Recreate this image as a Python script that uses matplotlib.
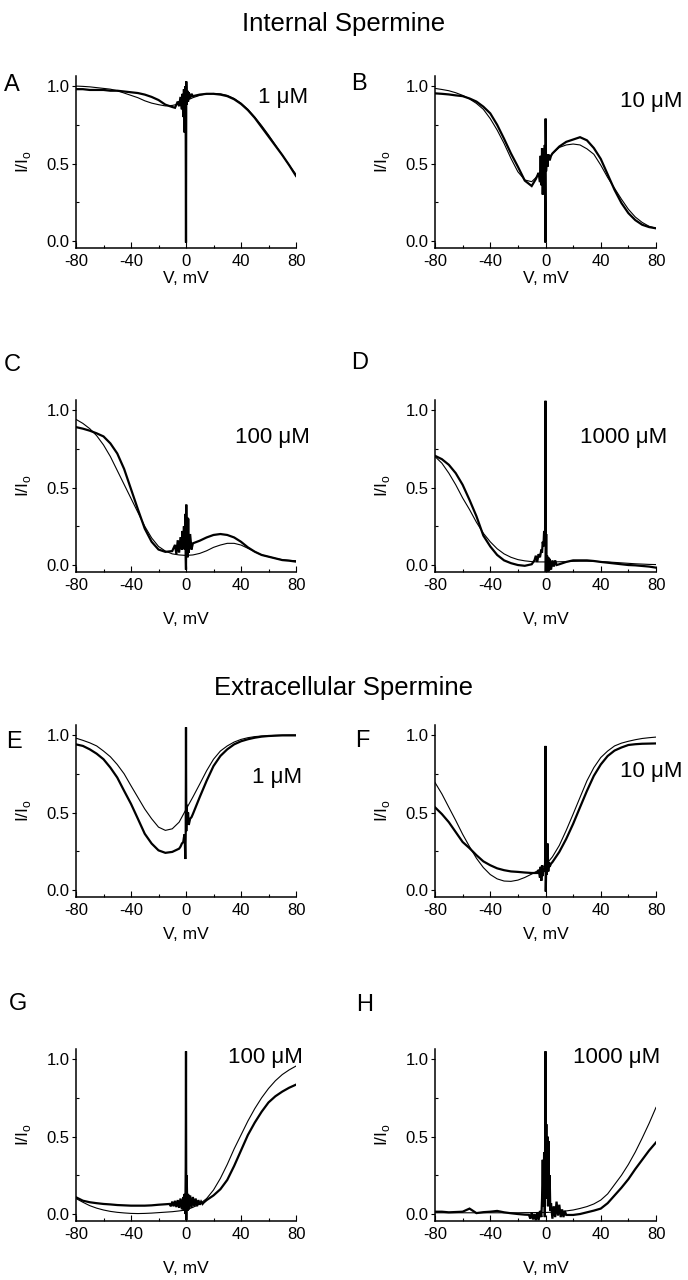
import matplotlib
matplotlib.use("Agg")
import matplotlib.pyplot as plt

plt.rcParams["font.family"] = ["Liberation Sans", "DejaVu Sans"]
plt.rcParams["mathtext.fontset"] = "custom"
plt.rcParams["mathtext.rm"] = "Liberation Sans"
plt.rcParams["axes.unicode_minus"] = False

# membrane voltage grid (mV)
volts = [-80, -75, -70, -65, -60, -55, -50, -45, -40, -35, -30, -25, -20, -15, -10, -5,
         0, 5, 10, 15, 20, 25, 30, 35, 40, 45, 50, 55, 60, 65, 70, 75, 80]

# A - internal 1 uM
a_trace = [0.98, 0.98, 0.975, 0.975, 0.975, 0.97, 0.97, 0.965, 0.96, 0.955, 0.945, 0.93, 0.91, 0.88, 0.865, 0.88,
           0.90, 0.935, 0.945, 0.95, 0.95, 0.945, 0.935, 0.915, 0.885, 0.845, 0.795, 0.735, 0.675, 0.615, 0.555, 0.49, 0.42]
a_fit = [1.0, 0.998, 0.995, 0.99, 0.985, 0.98, 0.97, 0.955, 0.94, 0.925, 0.905, 0.89, 0.88, 0.872, 0.875, 0.885,
         0.905, 0.925, 0.94, 0.95, 0.952, 0.95, 0.94, 0.92, 0.89, 0.85, 0.80, 0.745, 0.685, 0.62, 0.555, 0.49, 0.43]
a_burst_v = [-8, -6, -5, -4, -3, -2.5, -2, -1.5, -1, -0.5, -0.2, 0, 0.2, 0.5, 1, 1.5, 2, 3, 4]
a_burst = [0.86, 0.90, 0.87, 0.93, 0.85, 0.95, 0.80, 0.98, 0.70, 1.00, 0.67, -0.01, 1.03, 0.88, 0.97, 0.90, 0.96, 0.92, 0.95]

# B - internal 10 uM
b_trace = [0.953, 0.95, 0.946, 0.94, 0.935, 0.92, 0.90, 0.867, 0.824, 0.75, 0.66, 0.565, 0.48, 0.39, 0.355, 0.42,
           0.5, 0.565, 0.61, 0.64, 0.655, 0.67, 0.65, 0.60, 0.53, 0.43, 0.33, 0.245, 0.18, 0.135, 0.105, 0.09, 0.082]
b_fit = [0.985, 0.978, 0.97, 0.957, 0.94, 0.917, 0.888, 0.85, 0.79, 0.716, 0.63, 0.533, 0.447, 0.394, 0.383, 0.426,
         0.50, 0.565, 0.604, 0.62, 0.626, 0.62, 0.595, 0.56, 0.49, 0.41, 0.34, 0.27, 0.205, 0.155, 0.12, 0.095, 0.082]
b_burst_v = [-7, -6, -5, -4, -3.5, -3, -2.5, -2, -1.5, -1, -0.5, -0.2, 0, 0.1, 0.4, 1, 1.5, 2, 3, 4]
b_burst = [0.40, 0.42, 0.44, 0.38, 0.55, 0.36, 0.60, 0.30, 0.50, 0.40, 0.62, 0.25, -0.01, 0.79, 0.45, 0.55, 0.48, 0.56, 0.52, 0.55]

# C - internal 100 uM
c_trace = [0.89, 0.88, 0.867, 0.85, 0.83, 0.785, 0.72, 0.62, 0.49, 0.36, 0.235, 0.15, 0.10, 0.085, 0.09, 0.118,
           0.1, 0.118, 0.157, 0.178, 0.194, 0.2, 0.194, 0.178, 0.15, 0.114, 0.086, 0.065, 0.054, 0.043, 0.032, 0.028, 0.022]
c_fit = [0.94, 0.914, 0.88, 0.835, 0.775, 0.70, 0.61, 0.52, 0.43, 0.34, 0.25, 0.175, 0.12, 0.09, 0.072, 0.065,
         0.062, 0.065, 0.075, 0.092, 0.114, 0.129, 0.14, 0.14, 0.129, 0.108, 0.086, 0.065, 0.054, 0.043, 0.034, 0.03, 0.028]
c_burst_v = [-10, -8, -7, -6, -5, -4, -3, -2.5, -2, -1.5, -1, -0.5, -0.2, 0, 0.2, 0.5, 0.8, 1.2, 1.6, 2, 3, 4, 5]
c_burst = [0.09, 0.13, 0.07, 0.16, 0.08, 0.18, 0.10, 0.22, 0.12, 0.25, 0.10, 0.33, 0.05, -0.03, 0.39, 0.08,
           0.31, 0.05, 0.30, 0.08, 0.20, 0.10, 0.14]

# D - internal 1000 uM
d_trace = [0.705, 0.683, 0.647, 0.593, 0.518, 0.42, 0.315, 0.19, 0.12, 0.065, 0.03, 0.012, 0.0, -0.005, 0.005, 0.02,
           0.0, 0.0, 0.005, 0.02, 0.03, 0.03, 0.03, 0.026, 0.02, 0.015, 0.01, 0.005, 0.0, -0.002, -0.006, -0.01, -0.017]
d_fit = [0.70, 0.657, 0.593, 0.518, 0.433, 0.358, 0.276, 0.205, 0.15, 0.105, 0.072, 0.05, 0.035, 0.027, 0.022, 0.02,
         0.02, 0.02, 0.021, 0.022, 0.024, 0.025, 0.025, 0.024, 0.022, 0.02, 0.017, 0.014, 0.011, 0.008, 0.006, 0.004, 0.003]
d_burst_v = [-8, -7, -6, -5, -4, -3, -2.5, -2, -1.5, -1, -0.6, -0.3, 0, 0.2, 0.5, 0.8, 1.2, 1.6, 2, 2.5, 3, 4, 5, 6, 7, 8]
d_burst = [0.03, 0.06, 0.02, 0.07, 0.05, 0.10, 0.08, 0.15, 0.12, 0.22, 0.14, 0.21, 1.06, -0.05, 0.20, -0.04,
           0.06, -0.05, 0.05, -0.04, 0.04, -0.03, 0.03, -0.01, 0.03, 0.0]

# E - extracellular 1 uM
e_trace = [0.94, 0.93, 0.908, 0.88, 0.844, 0.79, 0.726, 0.64, 0.556, 0.46, 0.363, 0.30, 0.256, 0.24, 0.246, 0.267,
           0.3, 0.49, 0.60, 0.705, 0.80, 0.865, 0.908, 0.94, 0.96, 0.973, 0.983, 0.99, 0.994, 0.996, 0.998, 0.998, 0.998]
e_fit = [0.98, 0.966, 0.95, 0.93, 0.897, 0.86, 0.81, 0.75, 0.673, 0.598, 0.523, 0.46, 0.406, 0.385, 0.395, 0.438,
         0.52, 0.60, 0.684, 0.77, 0.844, 0.897, 0.93, 0.955, 0.972, 0.983, 0.99, 0.994, 0.996, 0.998, 0.999, 1.0, 1.0]
e_burst_v = [-4, -3, -2, -1.5, -1, -0.5, -0.2, 0, 0.2, 0.5, 1, 1.5, 2, 3, 4]
e_burst = [0.28, 0.30, 0.31, 0.34, 0.36, 0.20, 0.37, 1.05, 0.38, 0.55, 0.44, 0.50, 0.42, 0.46, 0.47]

# F - extracellular 10 uM
f_trace = [0.534, 0.49, 0.438, 0.374, 0.31, 0.27, 0.225, 0.185, 0.16, 0.14, 0.128, 0.12, 0.117, 0.113, 0.11, 0.118,
           0.13, 0.18, 0.246, 0.33, 0.427, 0.534, 0.64, 0.737, 0.81, 0.865, 0.90, 0.92, 0.936, 0.941, 0.944, 0.945, 0.946]
f_fit = [0.694, 0.62, 0.534, 0.449, 0.36, 0.28, 0.205, 0.145, 0.1, 0.072, 0.058, 0.056, 0.064, 0.081, 0.103, 0.128,
         0.16, 0.214, 0.288, 0.385, 0.49, 0.598, 0.705, 0.79, 0.855, 0.897, 0.93, 0.948, 0.96, 0.97, 0.978, 0.983, 0.987]
f_burst_v = [-6, -5, -4, -3.5, -3, -2.5, -2, -1.5, -1, -0.3, 0, 0.2, 0.6, 1, 1.5, 2, 2.5, 3, 4]
f_burst = [0.11, 0.13, 0.08, 0.15, 0.06, 0.16, 0.09, 0.14, 0.12, 0.17, 0.93, -0.01, 0.20, 0.10, 0.30, 0.12, 0.18, 0.15, 0.17]

# G - extracellular 100 uM
g_trace = [0.108, 0.086, 0.076, 0.07, 0.065, 0.062, 0.058, 0.056, 0.054, 0.054, 0.054, 0.056, 0.06, 0.063, 0.065, 0.07,
           0.07, 0.076, 0.065, 0.09, 0.12, 0.16, 0.22, 0.31, 0.41, 0.51, 0.59, 0.66, 0.72, 0.76, 0.79, 0.815, 0.835]
g_fit = [0.10, 0.076, 0.054, 0.038, 0.026, 0.017, 0.011, 0.007, 0.004, 0.003, 0.004, 0.006, 0.009, 0.012, 0.015, 0.02,
         0.026, 0.043, 0.065, 0.1, 0.155, 0.23, 0.32, 0.42, 0.51, 0.6, 0.68, 0.75, 0.81, 0.86, 0.9, 0.93, 0.955]
g_burst_v = [-12, -11, -10, -9, -8, -7, -6, -5, -4, -3, -2, -1.5, -1, -0.5, -0.2, 0, 0.2, 0.5, 1, 1.5, 2,
             3, 4, 5, 6, 7, 8, 9, 10, 11, 12, 13]
g_burst = [0.065, 0.05, 0.08, 0.05, 0.085, 0.045, 0.09, 0.04, 0.10, 0.03, 0.11, 0.02, 0.13, 0.0, 0.30, 1.05, -0.04,
           0.25, 0.02, 0.13, 0.03, 0.12, 0.04, 0.11, 0.05, 0.10, 0.05, 0.09, 0.06, 0.08, 0.065, 0.075]

# H - extracellular 1000 uM
h_trace = [0.015, 0.015, 0.011, 0.013, 0.015, 0.035, 0.006, 0.012, 0.015, 0.02, 0.011, 0.005, 0.0, -0.004, -0.005, 0.0,
           0.0, 0.0, 0.0, -0.006, -0.006, 0.0, 0.011, 0.022, 0.035, 0.07, 0.12, 0.17, 0.225, 0.29, 0.35, 0.41, 0.462]
h_fit = [0.008, 0.008, 0.008, 0.008, 0.008, 0.008, 0.008, 0.008, 0.008, 0.008, 0.008, 0.008, 0.008, 0.009, 0.009, 0.01,
         0.01, 0.012, 0.015, 0.02, 0.026, 0.036, 0.048, 0.065, 0.09, 0.13, 0.19, 0.25, 0.32, 0.40, 0.49, 0.585, 0.688]
h_burst_v = [-12, -11, -10, -9, -8, -7, -6, -5, -4, -3, -2.5, -2, -1.5, -1, -0.5, 0, 0.3, 0.6, 1, 1.4, 1.8, 2.2, 2.6,
             3, 3.5, 4, 5, 6, 7, 8, 9, 10, 11, 12, 13, 14]
h_burst = [-0.005, -0.03, 0.01, -0.035, 0.0, -0.04, 0.01, -0.04, 0.02, -0.02, 0.10, 0.35, 0.05, 0.40, -0.02, 1.05,
           0.20, 0.58, 0.10, 0.50, 0.05, 0.47, 0.08, 0.25, 0.02, 0.07, -0.03, 0.05, -0.02, 0.08, -0.01, 0.06, -0.02,
           0.03, -0.02, 0.02]

letters = ["A", "B", "C", "D", "E", "F", "G", "H"]
concs = ["1 μM", "10 μM", "100 μM", "1000 μM", "1 μM", "10 μM", "100 μM", "1000 μM"]
traces = [a_trace, b_trace, c_trace, d_trace, e_trace, f_trace, g_trace, h_trace]
fits = [a_fit, b_fit, c_fit, d_fit, e_fit, f_fit, g_fit, h_fit]
bursts_v = [a_burst_v, b_burst_v, c_burst_v, d_burst_v, e_burst_v, f_burst_v, g_burst_v, h_burst_v]
bursts = [a_burst, b_burst, c_burst, d_burst, e_burst, f_burst, g_burst, h_burst]

W, H = 688, 1280
fig = plt.figure(figsize=(W / 100, H / 100), dpi=100)

# layout in pixels
col_left = [76, 435]
col_width = [220, 221]
row_top = [76, 400, 725, 1049]
ax_h = 172
xlabel_pad = [2, 14, 7, 14]
letter_xy = [(12, 85), (359, 84), (12, 365), (360, 363), (14, 742), (362, 741), (18, 1004), (365, 1005)]
conc_xy = [(308, 97), (682, 102), (310, 437), (667, 438), (302, 777), (682, 771), (303, 1057), (660, 1058)]


def merge(grid, bv, by):
    lo, hi = min(bv), max(bv)
    pts = [(v, y) for v, y in zip(volts, grid) if v < lo or v > hi]
    pts += list(zip(bv, by))
    pts.sort(key=lambda p: p[0])
    return [p[0] for p in pts], [p[1] for p in pts]


for i in range(8):
    row, col = i // 2, i % 2
    left = col_left[col] / W
    bottom = 1 - (row_top[row] + ax_h) / H
    ax = fig.add_axes([left, bottom, col_width[col] / W, ax_h / H])

    xv, yv = merge(traces[i], bursts_v[i], bursts[i])
    ax.plot(xv, yv, color="black", lw=1.6, solid_joinstyle="miter")
    ax.plot(volts, fits[i], color="black", lw=0.8)

    ax.set_xlim(-80, 80)
    ax.set_ylim(-0.045, 1.065)
    for s in ["top", "right"]:
        ax.spines[s].set_visible(False)
    for s in ["left", "bottom"]:
        ax.spines[s].set_linewidth(1.1)

    ax.set_xticks([-80, -40, 0, 40, 80])
    ax.set_xticks([-60, -20, 20, 60], minor=True)
    ax.set_yticks([0.0, 0.5, 1.0])
    ax.set_yticklabels(["0.0", "0.5", "1.0"])
    ax.set_yticks([0.25, 0.75], minor=True)
    ax.tick_params(axis="x", which="major", direction="in", length=4, width=0.8, labelsize=12, pad=4)
    ax.tick_params(axis="x", which="minor", direction="in", length=2.5, width=0.8)
    ax.tick_params(axis="y", which="major", direction="out", length=3, width=0.8, labelsize=12, pad=1.5)
    ax.tick_params(axis="y", which="minor", direction="in", length=2.5, width=0.8)

    ax.set_xlabel("V, mV", fontsize=12.5, labelpad=xlabel_pad[row])
    ax.set_ylabel("I/I$_\\mathrm{o}$", fontsize=12.5)
    ax.yaxis.set_label_coords(-43 / col_width[col], 0.5)

    lx, ly = letter_xy[i]
    fig.text(lx / W, 1 - ly / H, letters[i], fontsize=17, ha="center", va="center")
    cx, cy = conc_xy[i]
    fig.text(cx / W, 1 - cy / H, concs[i], fontsize=16, ha="right", va="center")

fig.text(0.5, 1 - 31 / H, "Internal Spermine", fontsize=18.5, ha="center", va="baseline")
fig.text(0.5, 1 - 695 / H, "Extracellular Spermine", fontsize=18.5, ha="center", va="baseline")

fig.savefig("out.png", dpi=100)
